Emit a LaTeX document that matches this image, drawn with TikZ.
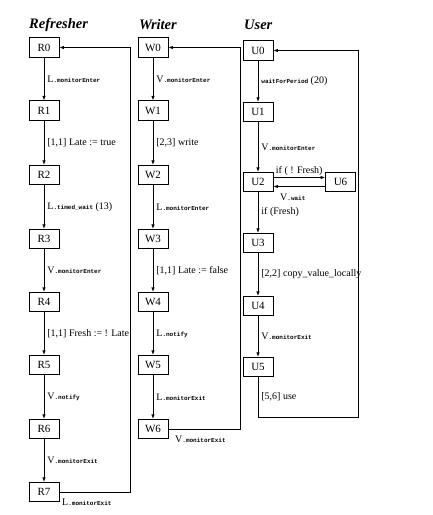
\documentclass[tikz,border=0pt]{standalone}
\usepackage{fontspec}
\setmainfont{Liberation Serif}
\setmonofont{Liberation Mono}
\usetikzlibrary{arrows.meta}
\newcommand\tl[1]{{\fontsize{6}{7}\ttfamily\bfseries #1}}
\begin{document}
\begin{tikzpicture}[x=1pt,y=-1pt,
  stbox/.style={draw, line width=0.8pt, minimum width=30pt, minimum height=19.5pt, inner sep=0pt, font=\fontsize{11}{12}\selectfont},
  arr/.style={line width=0.8pt, -{Latex[length=4.5pt,width=3.5pt]}},
  ln/.style={line width=0.8pt},
  lab/.style={anchor=west, inner sep=2pt, xshift=1pt, font=\fontsize{10}{11}\selectfont},
  ttl/.style={anchor=west, inner sep=0pt, font=\fontsize{14.5}{16}\selectfont\bfseries\itshape}]
\useasboundingbox (0,0) rectangle (433,515);
% titles
\node[ttl] (tR) at (29,25) {Refresher};
\node[ttl] (tW) at (139,25) {Writer};
\node[ttl] (tU) at (244,25) {User};
% Refresher
\node[stbox] (R0) at (44,47.5) {R0};
\node[stbox] (R1) at (44,110.5) {R1};
\node[stbox] (R2) at (44,175) {R2};
\node[stbox] (R3) at (44,239) {R3};
\node[stbox] (R4) at (44,302) {R4};
\node[stbox] (R5) at (44,365) {R5};
\node[stbox] (R6) at (44,429) {R6};
\node[stbox] (R7) at (44,492) {R7};
\draw[arr] (R0) -- node[lab] {L\tl{.monitorEnter}} (R1);
\draw[arr] (R1) -- node[lab] {[1,1] Late := true} (R2);
\draw[arr] (R2) -- node[lab] {L\tl{.timed\_wait} (13)} (R3);
\draw[arr] (R3) -- node[lab] {V\tl{.monitorEnter}} (R4);
\draw[arr] (R4) -- node[lab] {[1,1] Fresh := ! Late} (R5);
\draw[arr] (R5) -- node[lab] {V\tl{.notify}} (R6);
\draw[arr] (R6) -- node[lab] {V\tl{.monitorExit}} (R7);
\coordinate (r1) at (130,492);
\coordinate (r2) at (130,47.5);
\draw[arr] (R7.east) -- (r1) -- (r2) -- (R0.east);
\node[lab, xshift=0pt] (lR7) at (59,502) {L\tl{.monitorExit}};
% Writer
\node[stbox] (W0) at (153,47.5) {W0};
\node[stbox] (W1) at (153,110.5) {W1};
\node[stbox] (W2) at (153,175) {W2};
\node[stbox] (W3) at (153,239) {W3};
\node[stbox] (W4) at (153,302) {W4};
\node[stbox] (W5) at (153,365) {W5};
\node[stbox] (W6) at (153,429) {W6};
\draw[arr] (W0) -- node[lab] {V\tl{.monitorEnter}} (W1);
\draw[arr] (W1) -- node[lab] {[2,3] write} (W2);
\draw[arr] (W2) -- node[lab] {L\tl{.monitorEnter}} (W3);
\draw[arr] (W3) -- node[lab] {[1,1] Late := false} (W4);
\draw[arr] (W4) -- node[lab] {L\tl{.notify}} (W5);
\draw[arr] (W5) -- node[lab] {L\tl{.monitorExit}} (W6);
\coordinate (w1) at (240,429);
\coordinate (w2) at (240,47.5);
\draw[arr] (W6.east) -- (w1) -- (w2) -- (W0.east);
\node[lab, xshift=0pt] (lW6) at (172,439.5) {V\tl{.monitorExit}};
% User
\node[stbox] (U0) at (258,50.5) {U0};
\node[stbox] (U1) at (258,112) {U1};
\node[stbox] (U2) at (258,182) {U2};
\node[stbox] (U3) at (258,243) {U3};
\node[stbox] (U4) at (258,306) {U4};
\node[stbox] (U5) at (258,367) {U5};
\node[stbox] (U6) at (340.5,182) {U6};
\draw[arr] (U0) -- node[lab] {\tl{waitForPeriod} (20)} (U1);
\draw[arr] (U1) -- node[lab] {V\tl{.monitorEnter}} (U2);
\draw[arr] ([yshift=4.5pt]U2.east) -- node[above, inner sep=1pt, font=\fontsize{10}{11}\selectfont] (lif) {if ( ! Fresh)} ([yshift=4.5pt]U6.west);
\draw[arr] ([yshift=-4.5pt]U6.west) -- ([yshift=-4.5pt]U2.east);
\node[lab, xshift=0pt] (lwait) at (277,197) {V\tl{.wait}};
\draw[arr] (U2) -- node[lab] {if (Fresh)} (U3);
\draw[arr] (U3) -- node[lab] {[2,2] copy\_value\_locally} (U4);
\draw[arr] (U4) -- node[lab] {V\tl{.monitorExit}} (U5);
\coordinate (u1) at (258,417);
\coordinate (u2) at (358,417);
\coordinate (u3) at (358,50.5);
\draw[arr] (U5.south) -- node[lab] {[5,6] use} (u1) -- (u2) -- (u3) -- (U0.east);
\end{tikzpicture}
\end{document}
